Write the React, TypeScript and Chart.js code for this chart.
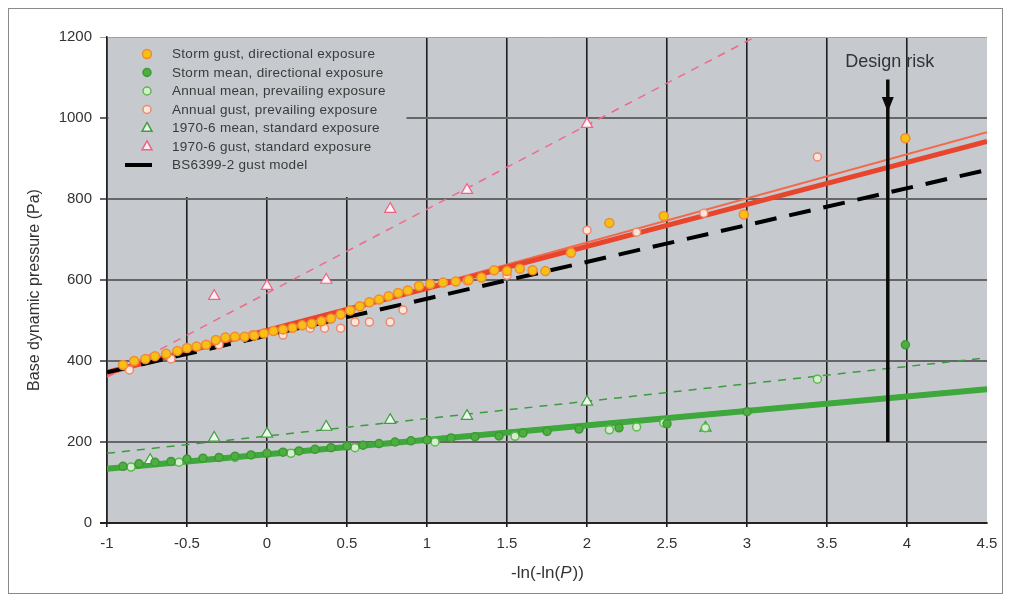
import React, { useEffect, useRef } from "react";
import { Chart, registerables } from "chart.js";
Chart.register(...registerables);

// ---------- data ----------
const stormGustX = [-0.9, -0.83, -0.76, -0.7, -0.63, -0.56, -0.5, -0.44, -0.38, -0.32, -0.26, -0.2, -0.14, -0.08, -0.02, 0.04, 0.1, 0.16, 0.22, 0.28, 0.34, 0.4, 0.46, 0.52, 0.58, 0.64, 0.7, 0.76, 0.82, 0.88, 0.95, 1.02, 1.1, 1.18, 1.26, 1.34, 1.42, 1.5, 1.58, 1.66, 1.74, 1.9, 2.14, 2.48, 2.98, 3.99];
const stormGustY = [390, 400, 405, 412, 418, 425, 432, 436, 440, 452, 458, 460, 460, 463, 468, 474, 478, 482, 488, 492, 498, 505, 515, 525, 535, 545, 552, 560, 568, 574, 585, 590, 594, 596, 600, 606, 624, 622, 628, 624, 622, 667, 741, 758, 762, 950];

const stormMeanX = [-0.9, -0.8, -0.7, -0.6, -0.5, -0.4, -0.3, -0.2, -0.1, 0, 0.1, 0.2, 0.3, 0.4, 0.5, 0.6, 0.7, 0.8, 0.9, 1.0, 1.15, 1.3, 1.45, 1.6, 1.75, 1.95, 2.2, 2.5, 3.0, 3.99];
const stormMeanY = [140, 146, 150, 152, 158, 160, 162, 165, 168, 172, 175, 178, 182, 186, 190, 192, 196, 200, 203, 205, 210, 213, 215, 222, 226, 232, 235, 245, 275, 440];

const annualMeanX = [-0.85, -0.55, -0.2, 0.15, 0.55, 1.05, 1.55, 2.14, 2.31, 2.48, 2.74, 3.44];
const annualMeanY = [138, 150, 162, 172, 186, 200, 214, 230, 237, 247, 235, 355];

const annualGustX = [-0.86, -0.6, -0.3, -0.09, 0.1, 0.27, 0.36, 0.46, 0.55, 0.64, 0.77, 0.85, 1.25, 1.5, 2.0, 2.31, 2.73, 3.44];
const annualGustY = [378, 405, 440, 465, 464, 481, 481, 481, 496, 496, 496, 526, 598, 612, 723, 718, 765, 904];

const mean1970X = [-0.73, -0.33, 0.0, 0.37, 0.77, 1.25, 2.0, 2.74];
const mean1970Y = [155, 210, 220, 237, 254, 264, 299, 235];

const gust1970X = [-0.33, 0.0, 0.37, 0.77, 1.25, 2.0];
const gust1970Y = [560, 585, 600, 775, 822, 985];

const fitX = [-1, 4.5];
const stormGustFitY = [372, 942];
const annualGustFitY = [366, 965];
const bs6399Y = [372, 872];
const stormMeanFitY = [134, 330];
const annualMeanFitY = [138, 334];
const mean1970FitY = [172, 408];
const gust1970FitX = [-1, 3.05];
const gust1970FitY = [360, 1200];

const designRiskLabel = "Design risk";
const designRiskX = 3.88;
const designRiskTop = 1095;
const designRiskBottom = 200;
const arrowTip = 1015;
const arrowBase = 1052;
const designRiskLabelY = 1138;

const xMin = -1, xMax = 4.5, xStep = 0.5;
const yMin = 0, yMax = 1200, yStep = 200;

const xTitle = ["-ln(-ln(", "P", "))"];
const yTitle = "Base dynamic pressure (Pa)";

const labels = [
  "Storm gust, directional exposure",
  "Storm mean, directional exposure",
  "Annual mean, prevailing exposure",
  "Annual gust, prevailing exposure",
  "1970-6 mean, standard exposure",
  "1970-6 gust, standard exposure",
  "BS6399-2 gust model",
];

const pts = (xs: number[], ys: number[]) => xs.map((x, i) => ({ x, y: ys[i] }));

const FONT = "'Liberation Sans', Arial, sans-serif";
const PLOT_BG = "#c6cacf";

const styles = [
  { kind: "circle", fill: "#f8c014", stroke: "#f08a30", r: 4.5 },
  { kind: "circle", fill: "#4fae42", stroke: "#3b9a33", r: 4 },
  { kind: "circle", fill: "#d6ecd0", stroke: "#5cb84e", r: 4 },
  { kind: "circle", fill: "#fbe6dc", stroke: "#f0886c", r: 4 },
  { kind: "triangle", fill: "#eef6ee", stroke: "#3f9f3f", r: 6.5 },
  { kind: "triangle", fill: "#fff2f5", stroke: "#f06282", r: 6.5 },
  { kind: "line", fill: "#000", stroke: "#000", r: 0 },
];

function drawMarker(ctx: CanvasRenderingContext2D, s: any, x: number, y: number) {
  ctx.save();
  ctx.fillStyle = s.fill;
  ctx.strokeStyle = s.stroke;
  ctx.lineWidth = 1.5;
  if (s.kind === "circle") {
    ctx.beginPath();
    ctx.arc(x, y, s.r, 0, Math.PI * 2);
    ctx.fill();
    ctx.stroke();
  } else if (s.kind === "triangle") {
    const r = s.r * 0.85;
    ctx.beginPath();
    ctx.moveTo(x, y - r);
    ctx.lineTo(x + r * 0.9, y + r * 0.6);
    ctx.lineTo(x - r * 0.9, y + r * 0.6);
    ctx.closePath();
    ctx.fill();
    ctx.stroke();
  } else {
    ctx.lineWidth = 4;
    ctx.beginPath();
    ctx.moveTo(x - 22, y);
    ctx.lineTo(x + 5, y);
    ctx.stroke();
  }
  ctx.restore();
}

const decorPlugin = {
  id: "decor",
  beforeDraw(chart: any) {
    const { ctx, chartArea: a } = chart;
    ctx.save();
    ctx.fillStyle = PLOT_BG;
    ctx.fillRect(a.left, a.top, a.right - a.left, a.bottom - a.top);
    ctx.restore();
  },
  beforeDatasetsDraw(chart: any) {
    const { ctx, chartArea: a } = chart;
    ctx.save();
    ctx.fillStyle = PLOT_BG;
    ctx.fillRect(a.left + 1.5, a.top + 1, 298, 159);
    ctx.restore();
  },
  afterDatasetsDraw(chart: any) {
    const { ctx, chartArea: a, scales } = chart;
    const xs = scales.x, ys = scales.y;
    // legend
    ctx.save();
    ctx.font = `13.5px ${FONT}`;
    (ctx as any).letterSpacing = "0.3px";
    ctx.textBaseline = "middle";
    ctx.textAlign = "left";
    labels.forEach((lab, i) => {
      const y = a.top + 17 + i * 18.5;
      drawMarker(ctx, styles[i], a.left + 40, y);
      ctx.fillStyle = "#3a3a3a";
      ctx.fillText(lab, a.left + 65, y + 0.5);
    });
    ctx.restore();

    // design risk annotation
    const px = xs.getPixelForValue(designRiskX);
    ctx.save();
    ctx.strokeStyle = "#0a0a0a";
    ctx.lineWidth = 3.5;
    ctx.beginPath();
    ctx.moveTo(px, ys.getPixelForValue(designRiskTop));
    ctx.lineTo(px, ys.getPixelForValue(designRiskBottom));
    ctx.stroke();
    ctx.fillStyle = "#0a0a0a";
    ctx.beginPath();
    ctx.moveTo(px, ys.getPixelForValue(arrowTip));
    ctx.lineTo(px + 6, ys.getPixelForValue(arrowBase));
    ctx.lineTo(px - 6, ys.getPixelForValue(arrowBase));
    ctx.closePath();
    ctx.fill();
    ctx.font = `18px ${FONT}`;
    ctx.fillStyle = "#333";
    ctx.textAlign = "center";
    ctx.textBaseline = "middle";
    ctx.fillText(designRiskLabel, px + 2, ys.getPixelForValue(designRiskLabelY));
    ctx.restore();
  },
  afterDraw(chart: any) {
    const { ctx, chartArea: a, width, height } = chart;
    ctx.save();
    // titles
    ctx.fillStyle = "#333";
    ctx.textBaseline = "middle";
    const cx = (a.left + a.right) / 2;
    const ty = a.bottom + 50;
    const f1 = `17px ${FONT}`;
    const f2 = `italic 17px ${FONT}`;
    ctx.font = f1;
    const w0 = ctx.measureText(xTitle[0]).width;
    const w2 = ctx.measureText(xTitle[2]).width;
    ctx.font = f2;
    const w1 = ctx.measureText(xTitle[1]).width;
    let x0 = cx - (w0 + w1 + w2) / 2;
    ctx.textAlign = "left";
    ctx.font = f1;
    ctx.fillText(xTitle[0], x0, ty);
    ctx.font = f2;
    ctx.fillText(xTitle[1], x0 + w0, ty);
    ctx.font = f1;
    ctx.fillText(xTitle[2], x0 + w0 + w1 + 1, ty);

    ctx.translate(27, 282);
    ctx.rotate(-Math.PI / 2);
    ctx.textAlign = "center";
    ctx.font = `16px ${FONT}`;
    ctx.fillText(yTitle, 0, 0);
    ctx.restore();

    // outer frame
    ctx.save();
    ctx.strokeStyle = "#8a8a8a";
    ctx.lineWidth = 1;
    ctx.strokeRect(0.5, 0.5, width - 1, height - 1);
    ctx.restore();
  },
};

export default function App() {
  const ref = useRef<HTMLCanvasElement | null>(null);
  useEffect(() => {
    if (!ref.current) return;
    const lineDs = (label: string, xs: number[], ys: number[], color: string, width: number, dash: number[], order: number) => ({
      label,
      data: pts(xs, ys),
      showLine: true,
      borderColor: color,
      backgroundColor: color,
      borderWidth: width,
      borderDash: dash,
      pointRadius: 0,
      order,
    });
    const ptDs = (i: number, xs: number[], ys: number[], order: number) => ({
      label: labels[i],
      data: pts(xs, ys),
      showLine: false,
      pointStyle: styles[i].kind === "triangle" ? "triangle" : "circle",
      pointRadius: styles[i].r,
      pointBackgroundColor: styles[i].fill,
      pointBorderColor: styles[i].stroke,
      pointBorderWidth: styles[i].kind === "triangle" ? 1.2 : 1.5,
      order,
    });
    const chart = new Chart(ref.current, {
      type: "scatter",
      data: {
        datasets: [
          ptDs(0, stormGustX, stormGustY, 1),
          ptDs(1, stormMeanX, stormMeanY, 2),
          ptDs(2, annualMeanX, annualMeanY, 3),
          ptDs(3, annualGustX, annualGustY, 4),
          ptDs(4, mean1970X, mean1970Y, 5),
          ptDs(5, gust1970X, gust1970Y, 6),
          lineDs("Storm gust fit", fitX, stormGustFitY, "#e8452c", 5, [], 12),
          lineDs("Annual gust fit", fitX, annualGustFitY, "#f26a4c", 2, [], 13),
          lineDs(labels[6], fitX, bs6399Y, "#000000", 4, [22, 13], 11),
          lineDs("Storm mean fit", fitX, stormMeanFitY, "#3fa83c", 6, [], 14),
          lineDs("Annual mean fit", fitX, annualMeanFitY, "#56b84c", 2, [], 15),
          lineDs("1970-6 mean fit", fitX, mean1970FitY, "#3c9c3c", 1.5, [8, 7], 16),
          lineDs("1970-6 gust fit", gust1970FitX, gust1970FitY, "#f06a88", 1.5, [8, 7], 17),
        ] as any,
      },
      options: {
        animation: false,
        responsive: true,
        maintainAspectRatio: false,
        layout: { padding: { left: 0, top: 29, right: 16, bottom: 0 } },
        plugins: { legend: { display: false }, tooltip: { enabled: false } },
        scales: {
          x: {
            type: "linear",
            min: xMin,
            max: xMax,
            afterFit: (s: any) => { s.height = 71; s.paddingRight = 0; s.paddingLeft = 0; },
            ticks: {
              stepSize: xStep,
              color: "#333",
              font: { family: FONT, size: 15 },
              padding: 8,
              callback: (v: any) => String(Math.round(Number(v) * 10) / 10),
            },
            grid: {
              color: (c: any) => (c.tick && c.tick.value === xMax ? "rgba(0,0,0,0)" : "#1e1e1e"),
              lineWidth: 1.6,
              tickLength: 4,
            },
            border: { display: true, color: "#222", width: 2 },
          },
          y: {
            type: "linear",
            min: yMin,
            max: yMax,
            afterFit: (s: any) => { s.width = 99; },
            ticks: {
              stepSize: yStep,
              color: "#333",
              font: { family: FONT, size: 15 },
              padding: 8,
              callback: (v: any) => String(v),
            },
            grid: {
              color: (c: any) => {
                const v = c.tick ? c.tick.value : 0;
                if (v === yMax) return "#9ea2a6";
                if (v === yMin) return "#222";
                return "#666";
              },
              lineWidth: (c: any) => (c.tick && c.tick.value === yMax ? 1 : 2),
              tickLength: 7,
            },
            border: { display: true, color: "#222", width: 1.5 },
          },
        },
      },
      plugins: [decorPlugin],
    } as any);
    return () => chart.destroy();
  }, []);
  return (
    <div style={{ position: "relative", width: "995px", height: "586px" }}>
      <canvas ref={ref} />
    </div>
  );
}
